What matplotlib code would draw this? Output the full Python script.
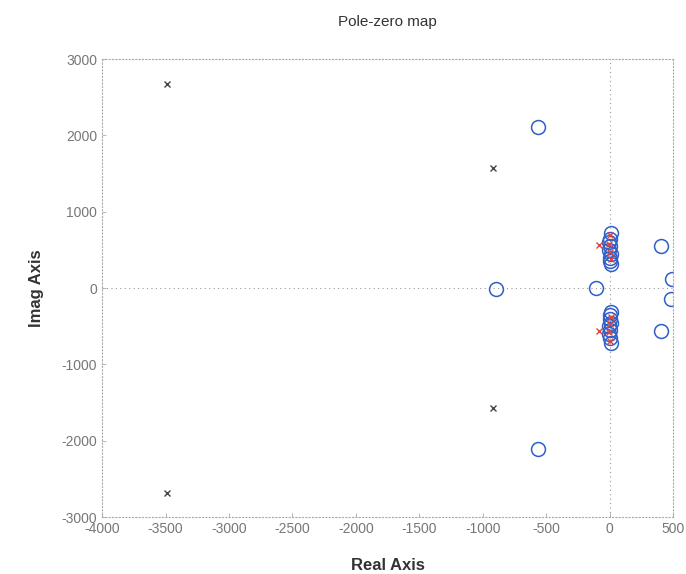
import numpy as np
import matplotlib.pyplot as plt

plt.rcParams['font.family'] = ['Liberation Sans', 'DejaVu Sans']
plt.rcParams['axes.unicode_minus'] = False

# poles (x marks)
pole_re = [-3490, -3490, -915, -915]
pole_im = [2680, -2680, 1575, -1575]

# poles near the origin (red x marks)
pole2_re = [-85, -85, 5, -5, 0, 8, 5, -5, 0, 8]
pole2_im = [560, -560, 690, 580, 470, 380, -690, -580, -470, -380]

# zeros (circles)
zero_re = [-565, -565, -895, -105, 405, 405, 490, 485,
           10, 0, -8, 5, -5, 8, 0, 5, 10,
           10, 0, -8, 5, -5, 8, 0, 5, 10]
zero_im = [2110, -2110, -10, 0, 550, -560, 115, -145,
           720, 650, 600, 550, 500, 450, 400, 350, 310,
           -720, -650, -600, -550, -500, -450, -400, -350, -310]

fig = plt.figure(figsize=(6.86, 5.74), dpi=100)
ax = fig.add_axes([0.149, 0.099, 0.832, 0.798])

ax.axhline(0, color='#999999', lw=0.8, ls=(0, (1, 3)), zorder=0)
ax.axvline(0, color='#999999', lw=0.8, ls=(0, (1, 3)), zorder=0)

ax.plot(zero_re, zero_im, 'o', mfc='none', mec='#2f5fc8', ms=10, mew=1.1)
ax.plot(pole_re, pole_im, 'x', color='#444444', ms=4.5, mew=1.0)
ax.plot(pole2_re, pole2_im, 'x', color='#e0443a', ms=5, mew=1.0)

ax.set_xlim(-4000, 500)
ax.set_ylim(-3000, 3000)
ax.set_xticks(np.arange(-4000, 501, 500))
ax.set_yticks(np.arange(-3000, 3001, 1000))

for s in ax.spines.values():
    s.set_color('#aaaaaa')
    s.set_linestyle((0, (1, 2)))
    s.set_linewidth(0.8)

ax.tick_params(colors='#aaaaaa', labelcolor='#777777', labelsize=10,
               direction='in', length=3, width=0.6)

ax.set_title('Pole-zero map', fontsize=11, color='#333333', pad=24)
ax.set_xlabel('Real Axis', fontsize=12, fontweight='bold', color='#333333', labelpad=16)
ax.set_ylabel('Imag Axis', fontsize=12, fontweight='bold', color='#333333', labelpad=13)

fig.savefig('out.png', dpi=100)
